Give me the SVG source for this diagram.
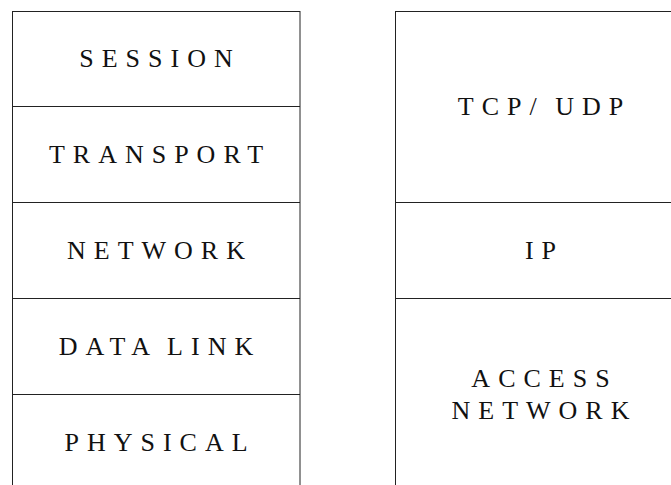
<svg xmlns="http://www.w3.org/2000/svg" width="671" height="485" viewBox="0 0 671 485">
<style>
.box{fill:#fff;stroke:#222;stroke-width:1}
.ln{stroke:#222;stroke-width:1;fill:none}
.t{font-family:"Liberation Serif","Times New Roman",serif;font-size:26px;letter-spacing:8px;word-spacing:-4px;fill:#111;text-anchor:middle}
</style>
<rect width="671" height="485" fill="#fff"/>
<g id="osi-stack">
<rect class="box" x="12.5" y="11.5" width="287.5" height="490"/>
<g id="session"><text class="t" x="160" y="67">SESSION</text></g>
<g id="transport"><line class="ln" x1="12.5" y1="106.5" x2="300" y2="106.5"/><text class="t" x="160" y="163">TRANSPORT</text></g>
<g id="network"><line class="ln" x1="12.5" y1="202.5" x2="300" y2="202.5"/><text class="t" x="160" y="259">NETWORK</text></g>
<g id="datalink"><line class="ln" x1="12.5" y1="298.5" x2="300" y2="298.5"/><text class="t" x="160" y="355">DATA LINK</text></g>
<g id="physical"><line class="ln" x1="12.5" y1="394.5" x2="300" y2="394.5"/><text class="t" x="160" y="451">PHYSICAL</text></g>
</g>
<g id="tcpip-stack">
<rect class="box" x="395.5" y="11.5" width="290" height="490"/>
<g id="tcpudp"><text class="t" x="544.5" y="115">TCP/ UDP</text></g>
<g id="ip"><line class="ln" x1="395.5" y1="202.5" x2="685.5" y2="202.5"/><text class="t" x="544.5" y="259">IP</text></g>
<g id="access"><line class="ln" x1="395.5" y1="298.5" x2="685.5" y2="298.5"/><text class="t" x="544.5" y="387">ACCESS</text><text class="t" x="544.5" y="419">NETWORK</text></g>
</g>
<g id="connectors"></g>
</svg>
